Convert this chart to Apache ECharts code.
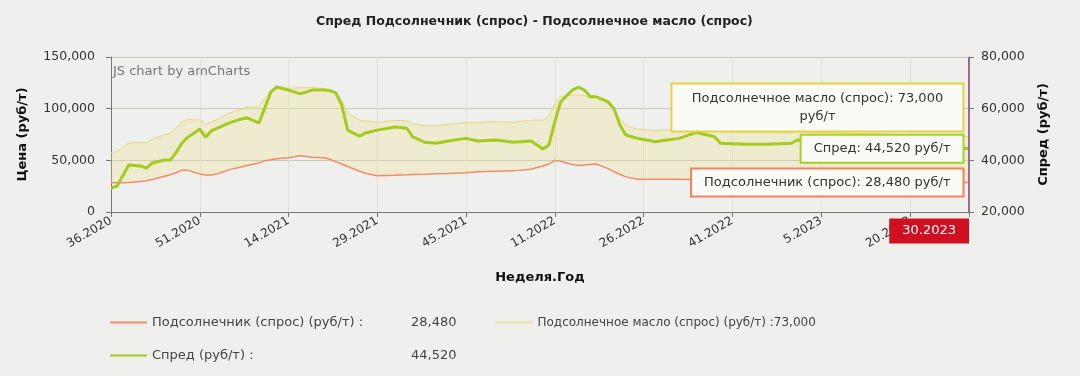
<!DOCTYPE html>
<html>
<head>
<meta charset="utf-8">
<title>Спред Подсолнечник - Подсолнечное масло</title>
<script src="https://cdn.jsdelivr.net/npm/echarts@6/dist/echarts.min.js"></script>
<style>
  html, body { margin: 0; padding: 0; background: #efefed; }
  #chart { width: 1080px; height: 376px; }
</style>
</head>
<body>
<div id="chart"></div>
<script>
// axis weeks run 36.2020 .. 30.2023, a few weeks are absent in the source
var firstWeek = 36, firstYear = 2020, lastWeek = 30, lastYear = 2023;
var weeksInYear = { 2020: 53, 2021: 52, 2022: 52, 2023: 52 };
var missingWeeks = ['53.2020', '33.2021', '52.2021', '1.2022', '2.2022', '52.2022'];
var tickLabels = ['36.2020', '51.2020', '14.2021', '29.2021', '45.2021', '11.2022',
  '26.2022', '41.2022', '5.2023', '20.2023', '30.2023'];

// values (руб/т)
var sampleWeeks = ['36.2020', '37.2020', '38.2020', '39.2020', '41.2020', '42.2020', '43.2020', '45.2020',
  '46.2020', '47.2020', '48.2020', '49.2020', '50.2020', '51.2020', '52.2020', '1.2021', '2.2021',
  '4.2021', '6.2021', '7.2021', '9.2021', '10.2021', '11.2021', '12.2021', '14.2021', '16.2021',
  '18.2021', '20.2021', '21.2021', '22.2021', '23.2021', '24.2021', '26.2021', '27.2021', '29.2021',
  '32.2021', '35.2021', '36.2021', '38.2021', '40.2021', '42.2021', '45.2021', '47.2021', '50.2021',
  '4.2022', '7.2022', '8.2022', '9.2022', '10.2022', '11.2022', '12.2022', '13.2022', '14.2022',
  '15.2022', '16.2022', '17.2022', '18.2022', '20.2022', '21.2022', '22.2022', '23.2022', '25.2022',
  '28.2022', '30.2022', '32.2022', '35.2022', '38.2022', '39.2022', '43.2022', '47.2022', '51.2022',
  '1.2023', '5.2023', '10.2023', '15.2023', '20.2023', '25.2023', '30.2023'];

var seedValues = [28300, 28300, 28300, 28500, 29500, 30300, 31500, 34500,
  36000, 38000, 40500, 40500, 38500, 37000, 35800, 35800, 37000,
  41000, 43500, 45000, 47500, 49500, 50500, 51500, 52500, 54500,
  53000, 52500, 51000, 48500, 46500, 44000, 39500, 37500, 35000,
  35500, 36000, 36300, 36500, 37000, 37200, 38000, 39000, 39500,
  39800, 41400, 43000, 44500, 46400, 50000, 49000, 47500, 46000,
  45000, 45500, 46000, 46400, 42000, 39000, 36500, 34000, 31600,
  31600, 31600, 31600, 31500, 31300, 31200, 31000, 30500, 30000,
  30000, 29500, 29300, 29000, 28800, 28600, 28480];

var spreadValues = [29300, 30000, 34000, 38200, 37800, 37000, 39000, 40100,
  40100, 43000, 46700, 49000, 50500, 52100, 49000, 51500, 52500,
  54500, 56000, 56400, 54500, 60300, 66400, 68400, 67200, 65700,
  67200, 67200, 67000, 66100, 61400, 51700, 49400, 50600, 51700,
  52900, 52400, 49100, 47000, 46600, 47500, 48500, 47500, 47900,
  47000, 47500, 45900, 44400, 45900, 55000, 62700, 65000, 67200,
  68300, 67200, 64600, 64600, 62700, 60100, 53700, 49800, 48500,
  47200, 47900, 48500, 50800, 49100, 46600, 46200, 46200, 46600,
  47900, 47500, 47000, 46500, 46000, 45500, 44520];

var seedName = 'Подсолнечник (спрос)';
var oilName = 'Подсолнечное масло (спрос)';
var spreadName = 'Спред';

window.onload = function () {
  var weeks = [];
  var w = firstWeek, y = firstYear;
  while (y < lastYear || (y === lastYear && w <= lastWeek)) {
    var lbl = w + '.' + y;
    if (missingWeeks.indexOf(lbl) < 0) weeks.push(lbl);
    w++;
    if (w > weeksInYear[y]) { w = 1; y++; }
  }
  var cursorWeek = tickLabels[tickLabels.length - 1];

  function fmt(v) {
    return String(v).replace(/\B(?=(\d{3})+(?!\d))/g, ',');
  }
  function isTick(index, value) {
    return tickLabels.indexOf(value) >= 0;
  }
  // the last label sits under the cursor box
  function isLabel(index, value) {
    return isTick(index, value) && value !== cursorWeek;
  }
  function pairs(vals) {
    return sampleWeeks.map(function (wk, i) { return [wk, vals[i]]; });
  }
  // amCharts-like balloon on the last point
  function withBalloon(data, label) {
    var n = data.length - 1;
    data[n] = { value: data[n], symbol: 'circle', symbolSize: 1, label: label };
    return data;
  }
  function balloon(text, color, dy) {
    return {
      show: true,
      position: 'left',
      distance: 6,
      offset: [0, dy],
      formatter: text,
      backgroundColor: '#fafaf6',
      borderColor: color,
      borderWidth: 2,
      padding: [5, 12],
      color: '#333',
      fontFamily: 'DejaVu Sans',
      fontSize: 13,
      lineHeight: 16,
      rich: { t: { width: 266, align: 'center', fontFamily: 'DejaVu Sans', fontSize: 13, color: '#333', lineHeight: 18 } }
    };
  }

  var last = seedValues.length - 1;
  var seedLast = seedValues[last];
  var spreadLast = spreadValues[last];
  var oilLast = seedLast + spreadLast;

  var font = 'DejaVu Sans';
  var chart = echarts.init(document.getElementById('chart'));

  var legendRich = {
    n: { width: 259, fontFamily: font, fontSize: 13, color: '#444' },
    m: { fontFamily: font, fontSize: 12, color: '#444' },
    v: { fontFamily: font, fontSize: 13, color: '#444' }
  };

  var option = {
    backgroundColor: '#efefed',
    animation: false,
    title: {
      text: 'Спред Подсолнечник (спрос) - Подсолнечное масло (спрос)',
      left: 311,
      top: 10,
      textStyle: { fontFamily: font, fontSize: 12.5, fontWeight: 'bold', color: '#222' }
    },
    graphic: [{
      type: 'text',
      left: 113,
      top: 65,
      style: { text: 'JS chart by amCharts', fill: '#777', font: '13px DejaVu Sans' }
    }],
    tooltip: { trigger: 'axis', show: false },
    legend: [
      {
        data: [seedName, oilName],
        left: 110,
        top: 316,
        padding: 0,
        icon: 'rect',
        itemWidth: 37,
        itemHeight: 2,
        itemGap: 39,
        selectedMode: false,
        formatter: function (name) {
          if (name === seedName) return '{n|' + name + ' (руб/т) :}{v|' + fmt(seedLast) + '}';
          return '{m|' + name + ' (руб/т) :' + fmt(oilLast) + '}';
        },
        textStyle: { rich: legendRich }
      },
      {
        data: [spreadName],
        left: 110,
        top: 349,
        padding: 0,
        icon: 'rect',
        itemWidth: 37,
        itemHeight: 2,
        selectedMode: false,
        formatter: function (name) {
          return '{n|' + name + ' (руб/т) :}{v|' + fmt(spreadLast) + '}';
        },
        textStyle: { rich: legendRich }
      }
    ],
    grid: { left: 111, right: 111, top: 57, bottom: 164 },
    xAxis: {
      type: 'category',
      data: weeks,
      boundaryGap: false,
      name: 'Неделя.Год',
      nameLocation: 'middle',
      nameGap: 59,
      nameTextStyle: { fontFamily: font, fontSize: 13, fontWeight: 'bold', color: '#111' },
      axisLine: { lineStyle: { color: '#777' } },
      axisTick: { interval: isTick, length: 5, lineStyle: { color: '#777' } },
      axisLabel: { interval: isLabel, rotate: 30, margin: 8, fontFamily: font, fontSize: 12, color: '#333' },
      splitLine: { show: true, interval: isTick, lineStyle: { color: '#e0e0dc' } }
    },
    yAxis: [
      {
        type: 'value',
        min: 0,
        max: 150000,
        interval: 50000,
        name: 'Цена (руб/т)',
        nameLocation: 'middle',
        nameGap: 82,
        nameTextStyle: { fontFamily: font, fontSize: 13, fontWeight: 'bold', color: '#111' },
        axisLine: { show: true, lineStyle: { color: '#777' } },
        axisTick: { show: true, length: 5, lineStyle: { color: '#777' } },
        axisLabel: { margin: 16, fontFamily: font, fontSize: 12.5, color: '#333', formatter: fmt },
        splitLine: { lineStyle: { color: '#c9c9c2' } }
      },
      {
        type: 'value',
        min: 20000,
        max: 80000,
        interval: 20000,
        name: 'Спред (руб/т)',
        nameLocation: 'middle',
        nameGap: 68,
        nameTextStyle: { fontFamily: font, fontSize: 13, fontWeight: 'bold', color: '#111' },
        axisLine: { show: true, lineStyle: { color: '#777' } },
        axisTick: { show: true, length: 5, lineStyle: { color: '#777' } },
        axisLabel: { margin: 12, fontFamily: font, fontSize: 12.5, color: '#333', formatter: fmt },
        splitLine: { show: false }
      }
    ],
    series: [
      {
        name: seedName,
        type: 'line',
        stack: 'band',
        color: '#f08c6a',
        symbol: 'none',
        showAllSymbol: true,
        lineStyle: { color: '#f08c6a', width: 1.5 },
        data: withBalloon(pairs(seedValues),
          balloon(seedName + ': ' + fmt(seedLast) + ' руб/т', '#f0825e', 0)),
        markLine: {
          silent: true,
          symbol: ['none', 'none'],
          label: { show: false },
          lineStyle: { color: '#9c6b8c', width: 2, type: 'solid' },
          data: [{ xAxis: cursorWeek }]
        },
        markPoint: {
          symbol: 'rect',
          symbolSize: 1,
          itemStyle: { color: 'rgba(0,0,0,0)' },
          label: {
            show: true,
            position: 'bottom',
            align: 'right',
            distance: 6,
            formatter: cursorWeek,
            backgroundColor: '#cf1020',
            color: '#fff',
            padding: [6, 13],
            fontFamily: font,
            fontSize: 13
          },
          data: [{ coord: [cursorWeek, 0] }]
        }
      },
      {
        // stacked on the seed price: top edge = oil price
        name: oilName,
        type: 'line',
        stack: 'band',
        color: '#efe4a6',
        symbol: 'none',
        showAllSymbol: true,
        lineStyle: { color: '#e6da78', width: 1 },
        areaStyle: { color: 'rgba(240, 226, 130, 0.38)' },
        data: withBalloon(pairs(spreadValues),
          balloon('{t|' + oilName + ': ' + fmt(oilLast) + '}\n{t|руб/т}', '#e3d445', -29))
      },
      {
        name: spreadName,
        type: 'line',
        yAxisIndex: 1,
        color: '#a4cb1e',
        symbol: 'none',
        showAllSymbol: true,
        z: 3,
        lineStyle: { color: '#a4cb1e', width: 3 },
        data: withBalloon(pairs(spreadValues),
          balloon(spreadName + ': ' + fmt(spreadLast) + ' руб/т', '#a8d02a', 0))
      }
    ]
  };

  chart.setOption(option);
};
</script>
</body>
</html>
